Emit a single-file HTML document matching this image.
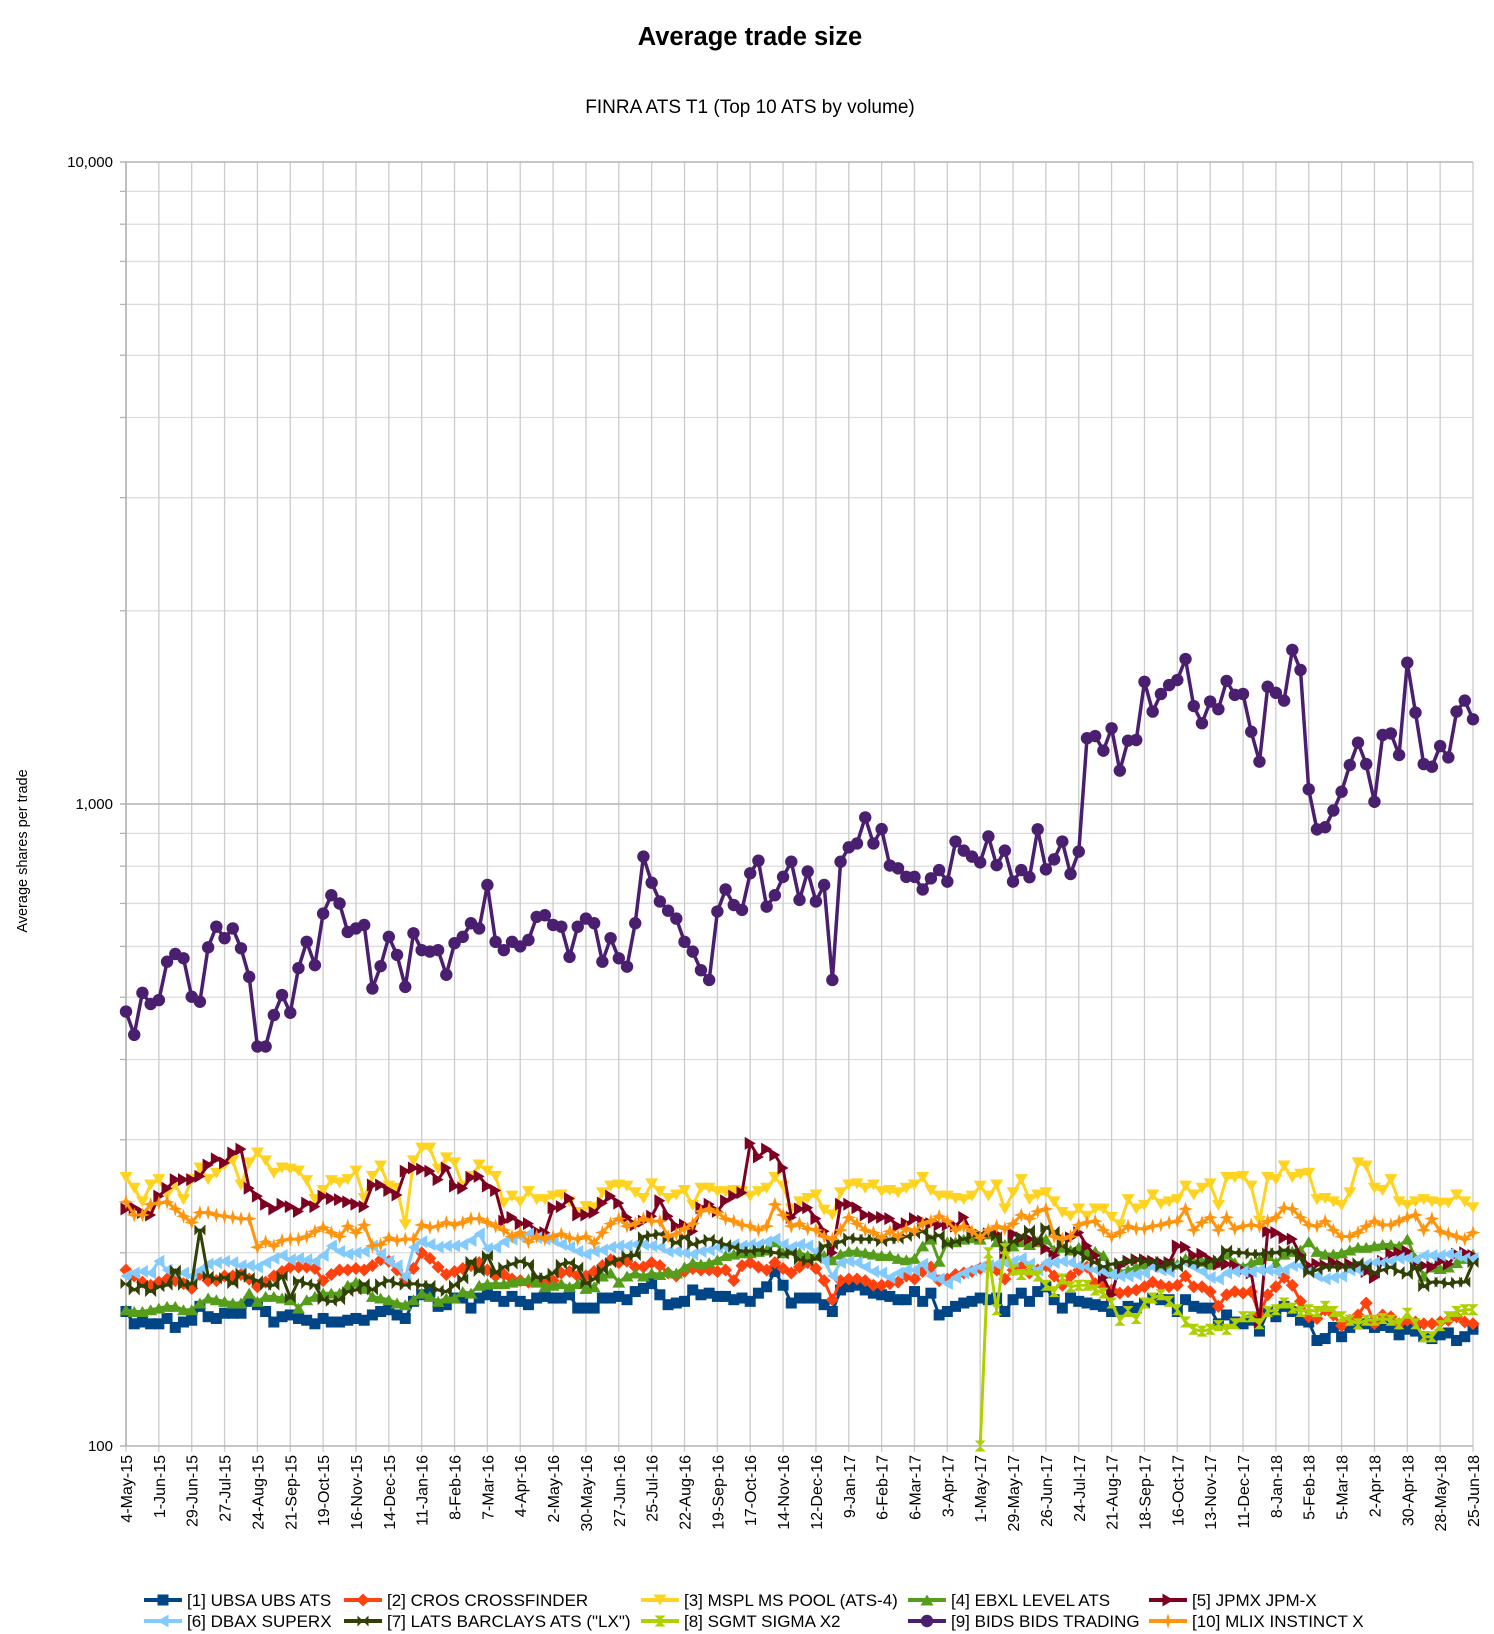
<!DOCTYPE html>
<html>
<head>
<meta charset="utf-8">
<style>
  html,body{margin:0;padding:0;background:#fff;}
  svg{display:block;font-family:"Liberation Sans",Arial,sans-serif;}
</style>
</head>
<body>
<svg id="chart" width="1494" height="1634" viewBox="0 0 1494 1634" xmlns="http://www.w3.org/2000/svg">
  <rect x="0" y="0" width="1494" height="1634" fill="#ffffff"/>
  <text x="750" y="45" text-anchor="middle" font-size="25.5" font-weight="bold" fill="#000">Average trade size</text>
  <text x="750" y="113" text-anchor="middle" font-size="19" fill="#000">FINRA ATS T1 (Top 10 ATS by volume)</text>
  <text x="0" y="0" transform="translate(27,851) rotate(-90)" text-anchor="middle" font-size="14.5" fill="#000">Average shares per trade</text>
  <g id="grid"></g>
  <g id="axes"></g>
  <g id="series"></g>
  <g id="legend"></g>
</svg>
<script>
// ---- chart data ----
const xTickLabels = ["4-May-15","1-Jun-15","29-Jun-15","27-Jul-15","24-Aug-15","21-Sep-15","19-Oct-15","16-Nov-15","14-Dec-15","11-Jan-16","8-Feb-16","7-Mar-16","4-Apr-16","2-May-16","30-May-16","27-Jun-16","25-Jul-16","22-Aug-16","19-Sep-16","17-Oct-16","14-Nov-16","12-Dec-16","9-Jan-17","6-Feb-17","6-Mar-17","3-Apr-17","1-May-17","29-May-17","26-Jun-17","24-Jul-17","21-Aug-17","18-Sep-17","16-Oct-17","13-Nov-17","11-Dec-17","8-Jan-18","5-Feb-18","5-Mar-18","2-Apr-18","30-Apr-18","28-May-18","25-Jun-18"];
const yTickValues = [100, 1000, 10000];
const yTickLabels = ["100", "1,000", "10,000"];
const seriesNames = ["[1] UBSA UBS ATS","[2] CROS CROSSFINDER","[3] MSPL MS POOL (ATS-4)","[4] EBXL LEVEL ATS","[5] JPMX JPM-X","[6] DBAX SUPERX","[7] LATS BARCLAYS ATS (\"LX\")","[8] SGMT SIGMA X2","[9] BIDS BIDS TRADING","[10] MLIX INSTINCT X"];

const ubsa = [162,155,156,155,155,158,153,156,157,165,159,158,161,161,161,168,166,162,156,159,160,158,157,155,158,156,156,157,158,157,160,162,163,160,158,168,172,174,165,166,170,170,164,170,172,171,168,171,168,166,170,171,170,170,172,164,
164,164,170,170,171,169,174,176,179,172,166,167,168,175,172,173,171,171,169,170,168,173,177,187,178,167,170,170,170,166,162,175,177,178,175,173,172,171,169,169,174,168,173,160,162,165,167,168,170,169,170,162,169,173,
168,174,177,169,164,170,168,167,166,165,162,162,165,164,167,170,169,169,162,169,165,164,164,155,160,156,155,157,151,162,159,165,162,157,156,146,147,153,148,153,155,155,153,154,153,149,152,151,148,147,149,150,146,148,152];
const cros = [188,184,180,178,180,182,181,179,176,185,181,181,184,184,185,182,177,180,184,187,190,190,190,189,181,185,188,188,189,188,191,195,194,188,182,189,200,196,190,185,187,189,191,193,188,184,185,182,181,180,181,179,181,186,187,184,
184,187,191,195,193,194,190,190,193,191,186,184,187,189,188,188,187,188,181,191,193,190,188,193,189,186,190,193,189,181,169,181,182,182,181,178,178,179,180,184,182,187,190,181,182,185,186,187,189,191,188,182,188,190,
186,188,191,184,178,184,188,190,179,177,175,173,174,175,177,180,178,177,178,184,177,177,174,165,172,174,173,174,160,172,177,183,178,168,159,158,163,160,154,157,160,167,155,160,159,155,157,156,155,155,156,157,159,156,155];
const mspl = [262,252,240,255,260,246,255,242,260,271,260,266,274,278,255,276,286,278,266,271,270,268,259,242,250,259,257,260,268,243,263,273,254,252,221,278,291,291,270,281,276,254,263,274,268,263,239,245,240,249,242,242,245,246,240,231,
236,235,248,254,255,254,248,243,256,249,243,246,250,237,252,252,249,249,250,249,245,249,252,262,254,234,240,243,246,233,229,248,255,256,252,255,249,250,248,252,255,262,250,245,245,243,242,245,254,245,255,234,248,260,
242,246,248,240,231,228,234,228,234,234,227,221,242,234,237,246,238,240,242,254,246,252,256,237,262,262,263,254,224,262,260,273,262,265,266,242,243,240,237,248,276,273,252,250,260,240,237,240,242,240,239,239,246,240,235];
const ebxl = [163,162,162,163,164,165,165,163,163,167,170,169,168,167,167,173,168,171,171,170,169,164,169,171,173,173,173,178,180,176,171,170,169,167,166,169,173,171,168,170,170,174,173,178,179,179,179,180,181,182,180,177,178,179,177,179,
176,177,184,186,180,184,186,184,186,185,187,186,190,193,192,193,195,198,199,200,200,201,202,208,200,202,200,198,198,198,195,199,201,201,200,199,198,198,196,195,196,205,210,194,208,208,210,211,210,214,208,206,205,208,
206,208,210,202,204,202,204,200,201,198,186,187,188,190,192,193,192,190,192,196,194,194,192,193,199,193,190,193,195,198,193,199,201,202,208,201,199,199,200,202,204,204,205,206,206,205,210,196,184,190,189,190,193,196,199];
const jpmx = [234,235,231,229,245,252,260,260,260,263,274,280,276,286,290,252,245,238,234,238,236,232,239,236,245,243,242,240,238,236,255,255,250,246,268,271,270,268,260,271,254,252,262,263,254,250,224,227,222,222,216,215,235,236,243,229,
229,231,239,245,239,227,221,224,228,241,228,220,221,216,235,238,232,241,245,248,296,282,290,284,271,227,234,235,226,216,200,238,238,235,229,227,227,226,220,222,226,224,222,221,221,220,227,214,213,214,214,196,214,211,
210,208,203,198,210,211,215,205,198,183,172,191,194,195,195,194,193,193,205,204,198,199,195,192,192,191,188,186,156,216,215,211,210,198,191,192,191,193,191,192,191,187,183,194,199,200,201,193,191,190,194,192,199,200,198];
const dbax = [184,186,187,186,194,188,186,186,184,188,192,193,194,193,191,191,190,193,196,198,195,196,195,194,198,205,201,199,200,201,205,199,194,191,183,204,208,206,204,205,205,206,209,214,203,204,208,210,212,214,211,210,209,206,204,201,
199,201,202,204,205,205,206,206,205,204,201,201,200,199,201,202,204,204,206,205,206,206,208,210,206,204,206,205,201,194,184,193,194,193,190,187,186,183,186,188,188,192,184,182,179,183,186,188,190,191,192,193,194,196,
192,188,193,193,194,193,191,190,188,187,185,184,184,185,186,190,188,187,191,193,190,187,183,182,186,187,187,187,188,188,187,188,191,191,187,184,182,183,184,188,188,192,193,193,194,196,196,195,198,198,198,199,198,196,196];
const lats = [179,175,178,174,177,178,188,178,179,217,184,182,183,179,186,183,181,178,178,184,170,181,179,178,169,168,169,174,175,179,175,179,181,179,178,179,178,178,175,174,178,182,194,187,198,186,190,192,194,192,183,183,186,192,193,190,
179,182,188,193,195,198,198,212,213,214,210,207,212,206,208,210,208,206,204,201,201,202,201,200,199,200,195,194,196,205,206,208,211,210,210,210,208,210,210,212,214,216,211,213,206,208,210,212,214,214,212,204,208,212,
217,208,219,216,205,201,200,196,193,190,192,193,194,195,194,194,190,193,190,194,193,192,194,195,202,200,200,199,199,200,200,202,201,196,186,188,190,190,190,190,193,190,186,188,190,187,185,190,177,180,180,179,180,180,193];
const sgmtStart = 104;
const sgmt = [100,200,163,203,188,185,188,184,178,174,182,177,178,178,175,173,167,157,162,158,167,170,172,168,163,156,152,151,152,154,152,155,159,159,155,162,163,167,164,162,163,162,165,162,159,157,155,157,157,158,157,155,161,155,148,148,154,159,162,163,163];
const bids = [475,437,508,488,495,568,584,575,501,492,598,644,618,640,596,538,419,419,469,504,473,555,610,561,675,721,700,632,640,648,516,559,621,582,519,629,592,589,592,542,607,621,652,640,748,610,592,610,600,614,667,671,648,644,578,644,663,652,568,618,575,558,652,828,754,705,682,663,610,589,551,532,680,736,696,684,780,816,692,721,770,813,709,785,705,748,532,813,856,
868,953,868,914,802,794,770,770,736,766,789,757,874,846,828,811,890,803,846,757,789,769,913,791,820,874,778,843,1266,1276,1211,1312,1127,1255,1258,1550,1393,1484,1532,1560,1682,1421,1336,1444,1405,1555,1479,1484,1296,1164,1523,1490,1449,1738,1617,1054,913,920,977,1045,1150,1246,1154,1008,1281,1288,1192,1660,1388,1154,1143,1231,1182,1393,1449,1355];
const mlix = [240,229,229,238,239,240,234,228,223,231,231,229,228,227,226,226,204,208,205,209,210,210,212,216,219,215,212,220,215,221,205,206,211,209,210,210,221,219,220,223,221,223,226,226,223,220,217,212,215,208,212,210,212,214,211,210,
212,207,215,222,226,220,222,226,224,224,212,214,218,222,232,234,231,226,224,221,220,217,220,238,229,220,222,218,217,212,210,217,227,222,217,215,211,216,212,218,216,222,224,228,224,217,220,216,211,217,220,218,222,229,
226,232,234,212,210,212,221,223,224,217,212,215,220,218,218,220,221,223,224,234,217,223,227,217,227,218,220,221,220,224,227,235,234,227,221,220,224,217,212,212,215,220,224,221,221,224,227,229,217,226,216,214,212,210,215];

// ---- layout ----
const NS = "http://www.w3.org/2000/svg";
const PL = 126, PR = 1473, PT = 162, PB = 1446;
const NWEEKS = 164;
const yMinLog = 2, yMaxLog = 4;
function xPos(i){ return PL + (PR - PL) * i / NWEEKS; }
function yPos(v){ return PB - (PB - PT) * (Math.log10(v) - yMinLog) / (yMaxLog - yMinLog); }
function mk(tag, attrs, parent){
  const e = document.createElementNS(NS, tag);
  for (const k in attrs) e.setAttribute(k, attrs[k]);
  parent.appendChild(e);
  return e;
}

const grid = document.getElementById('grid');
const axes = document.getElementById('axes');
const seriesG = document.getElementById('series');
const legend = document.getElementById('legend');

for (let d = 2; d < 4; d++) {
  for (let m = 2; m <= 9; m++) {
    const y = yPos(m * Math.pow(10, d));
    const l = mk('line', {x1: PL, x2: PR, y1: y, y2: y, stroke: '#dddddd', 'stroke-width': 1.3}, grid);
    
    
    const t = mk('line', {x1: PL - 6, x2: PL, y1: y, y2: y, stroke: '#b3b3b3', 'stroke-width': 1.3}, axes);
    
    
  }
}
xTickLabels.forEach((lab, k) => {
  const x = xPos(k * 4);
  const l = mk('line', {x1: x, x2: x, y1: PT, y2: PB + 6, stroke: '#cccccc', 'stroke-width': 1.3}, grid);
  
  
  const t = mk('text', {x: 0, y: 0, transform: 'translate(' + (x + 6) + ',' + (PB + 9) + ') rotate(-90)', 'text-anchor': 'end', 'font-size': 16, fill: '#000'}, axes);
  t.textContent = lab;
  
  
});
yTickValues.forEach((v, k) => {
  const y = yPos(v);
  const l = mk('line', {x1: PL - 6, x2: PR, y1: y, y2: y, stroke: '#b3b3b3', 'stroke-width': 1.6}, grid);
  
  
  const t = mk('text', {x: 113, y: y + 5, 'text-anchor': 'end', 'font-size': 15, fill: '#000'}, axes);
  t.textContent = yTickLabels[k];
  
  
});
const yAxisLine = mk('line', {x1: PL, x2: PL, y1: PT, y2: PB, stroke: '#b3b3b3', 'stroke-width': 1.6}, axes);



function marker(kind, x, y, color, parent){
  const s = 5.5;
  let e;
  if (kind === 'square') e = mk('rect', {x: x - s, y: y - s, width: 2 * s, height: 2 * s, fill: color}, parent);
  else if (kind === 'diamond') e = mk('polygon', {points: `${x},${y-s-1} ${x+s+1},${y} ${x},${y+s+1} ${x-s-1},${y}`, fill: color}, parent);
  else if (kind === 'down') e = mk('polygon', {points: `${x-s-1},${y-s} ${x+s+1},${y-s} ${x},${y+s}`, fill: color}, parent);
  else if (kind === 'up') e = mk('polygon', {points: `${x-s-1},${y+s} ${x+s+1},${y+s} ${x},${y-s}`, fill: color}, parent);
  else if (kind === 'right') e = mk('polygon', {points: `${x-s},${y-s-1} ${x-s},${y+s+1} ${x+s},${y}`, fill: color}, parent);
  else if (kind === 'left') e = mk('polygon', {points: `${x+s},${y-s-1} ${x+s},${y+s+1} ${x-s},${y}`, fill: color}, parent);
  else if (kind === 'bowtie') e = mk('polygon', {points: `${x-s},${y-s} ${x+s},${y+s} ${x+s},${y-s} ${x-s},${y+s}`, fill: color}, parent);
  else if (kind === 'hourglass') e = mk('polygon', {points: `${x-s},${y-s} ${x+s},${y-s} ${x-s},${y+s} ${x+s},${y+s}`, fill: color}, parent);
  else if (kind === 'circle') e = mk('circle', {cx: x, cy: y, r: 6.2, fill: color}, parent);
  else e = mk('polygon', {points: `${x},${y-s-2} ${x+1.8},${y-1.8} ${x+s+2},${y} ${x+1.8},${y+1.8} ${x},${y+s+2} ${x-1.8},${y+1.8} ${x-s-2},${y} ${x-1.8},${y-1.8}`, fill: color}, parent);
  return e;
}

const seriesData = [ubsa, cros, mspl, ebxl, jpmx, dbax, lats, sgmt, bids, mlix];
const seriesColors = ['#004586','#ff420e','#ffd320','#579d1c','#7e0021','#83caff','#314004','#aecf00','#4b1f6f','#ff950e'];
const seriesMarkers = ['square','diamond','down','up','right','left','bowtie','hourglass','circle','star'];
const seriesKeys = ['ubsa','cros','mspl','ebxl','jpmx','dbax','lats','sgmt','bids','mlix'];

seriesData.forEach((arr, s) => {
  const g = mk('g', {}, seriesG);
  
  
  const offset = (s === 7) ? sgmtStart : 0;
  const pts = arr.map((v, i) => xPos(i + offset).toFixed(1) + ',' + yPos(v).toFixed(1)).join(' ');
  const line = mk('polyline', {points: pts, fill: 'none', stroke: seriesColors[s], 'stroke-width': (s === 8 ? 3.5 : 3), 'stroke-linejoin': 'round'}, g);
  
  
  arr.forEach((v, i) => {
    const m = marker(seriesMarkers[s], xPos(i + offset), yPos(v), seriesColors[s], g);
    
    
  });
});

const legendX = [144, 344, 641, 908, 1149];
const legendY = [1600, 1621];
seriesNames.forEach((name, s) => {
  const col = s % 5, row = Math.floor(s / 5);
  const x = legendX[col], y = legendY[row];
  const g = mk('g', {}, legend);
  
  
  const l = mk('line', {x1: x, x2: x + 38, y1: y, y2: y, stroke: seriesColors[s], 'stroke-width': 4}, g);
  
  
  const m = marker(seriesMarkers[s], x + 19, y, seriesColors[s], g);
  
  
  const t = mk('text', {x: x + 43, y: y + 6, 'font-size': 17, fill: '#000'}, g);
  t.textContent = name;
  
  
});
</script>
</body>
</html>
